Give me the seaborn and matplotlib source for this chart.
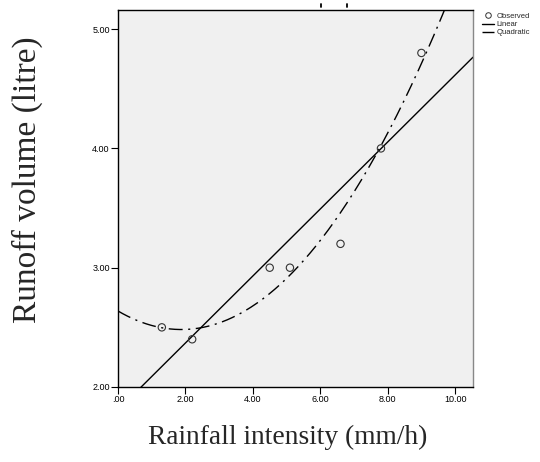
import numpy as np
import pandas as pd
import seaborn as sns
import matplotlib
matplotlib.use("Agg")
import matplotlib.pyplot as plt
from matplotlib.lines import Line2D

# Data
rainfall = [1.3, 2.2, 4.5, 5.1, 6.6, 7.8, 9.0]
runoff = [2.5, 2.4, 3.0, 3.0, 3.2, 4.0, 4.8]
x_ticks = [0, 2, 4, 6, 8, 10]
x_tick_labels = [".00", "2.00", "4.00", "6.00", "8.00", "10.00"]
y_ticks = [2, 3, 4, 5]
y_tick_labels = ["2.00", "3.00", "4.00", "5.00"]
legend_labels = ["Observed", "Linear", "Quadratic"]

df = pd.DataFrame({"x": rainfall, "y": runoff})

sns.set_theme(style="white")
plt.rcParams["font.family"] = ["Liberation Sans", "DejaVu Sans"]

fig = plt.figure(figsize=(5.4, 4.62), dpi=100)
ax = fig.add_axes([118 / 540, 1 - 387 / 462, (473 - 118) / 540, (387 - 10) / 462])
ax.set_facecolor("#f0f0f0")
ax.set_xlim(0, 10.53)
ax.set_ylim(2.0, 5.16)

# fitted curves over the whole axis range
xs = np.linspace(0, 10.53, 300)
lin = np.polyfit(df["x"], df["y"], 1)
quad = np.polyfit(df["x"], df["y"], 2)
fit = pd.DataFrame({"x": xs, "lin": np.polyval(lin, xs), "quad": np.polyval(quad, xs)})

sns.lineplot(data=fit, x="x", y="lin", ax=ax, color="black", linewidth=1.0)
sns.lineplot(data=fit, x="x", y="quad", ax=ax, color="black", linewidth=1.0,
             dashes=False)
ax.lines[-1].set_dashes([10, 4, 1.5, 4])
sns.scatterplot(data=df, x="x", y="y", ax=ax, marker="o", s=28,
                facecolor="none", edgecolor="#333333", linewidth=0.8, zorder=5)

ax.set_xticks(x_ticks)
ax.set_xticklabels(x_tick_labels)
ax.set_yticks(y_ticks)
ax.set_yticklabels(y_tick_labels)
ax.tick_params(axis="both", direction="out", length=5, width=0.8, colors="black",
               labelsize=6.5, pad=1, bottom=True, left=True)
for s in ax.spines.values():
    s.set_color("black")
    s.set_linewidth(1.0)
ax.spines["right"].set_color("#888888")

ax.set_xlabel("")
ax.set_ylabel("")
fig.text(288 / 540, 1 - 437 / 462, "Rainfall intensity (mm/h)", ha="center", va="center",
         fontsize=19.8, family=["Liberation Serif", "DejaVu Serif"])
fig.text(27 / 540, 1 - 180 / 462, "Runoff volume (litre)", ha="center", va="center",
         rotation=90, fontsize=24, family=["Liberation Serif", "DejaVu Serif"])

# legend outside to the right
handles = [
    Line2D([], [], linestyle="none", marker="o", markerfacecolor="none",
           markeredgecolor="#333333", markersize=4, markeredgewidth=0.7),
    Line2D([], [], color="black", linewidth=1.0),
    Line2D([], [], color="black", linewidth=1.0, dashes=[9, 4, 1.5, 4]),
]
fig.legend(handles, legend_labels, loc="upper left",
           bbox_to_anchor=(478 / 540, 1 - 9 / 462), frameon=False, fontsize=5.5,
           handlelength=1.6, handletextpad=0.3, labelspacing=0.1, borderpad=0)

# small marks above the plot area
for px in (321, 347):
    fig.add_artist(Line2D([px / 540, px / 540], [1 - 4 / 462, 1 - 6.5 / 462],
                          color="black", linewidth=1.3, transform=fig.transFigure))

fig.savefig("out.png", dpi=100)
